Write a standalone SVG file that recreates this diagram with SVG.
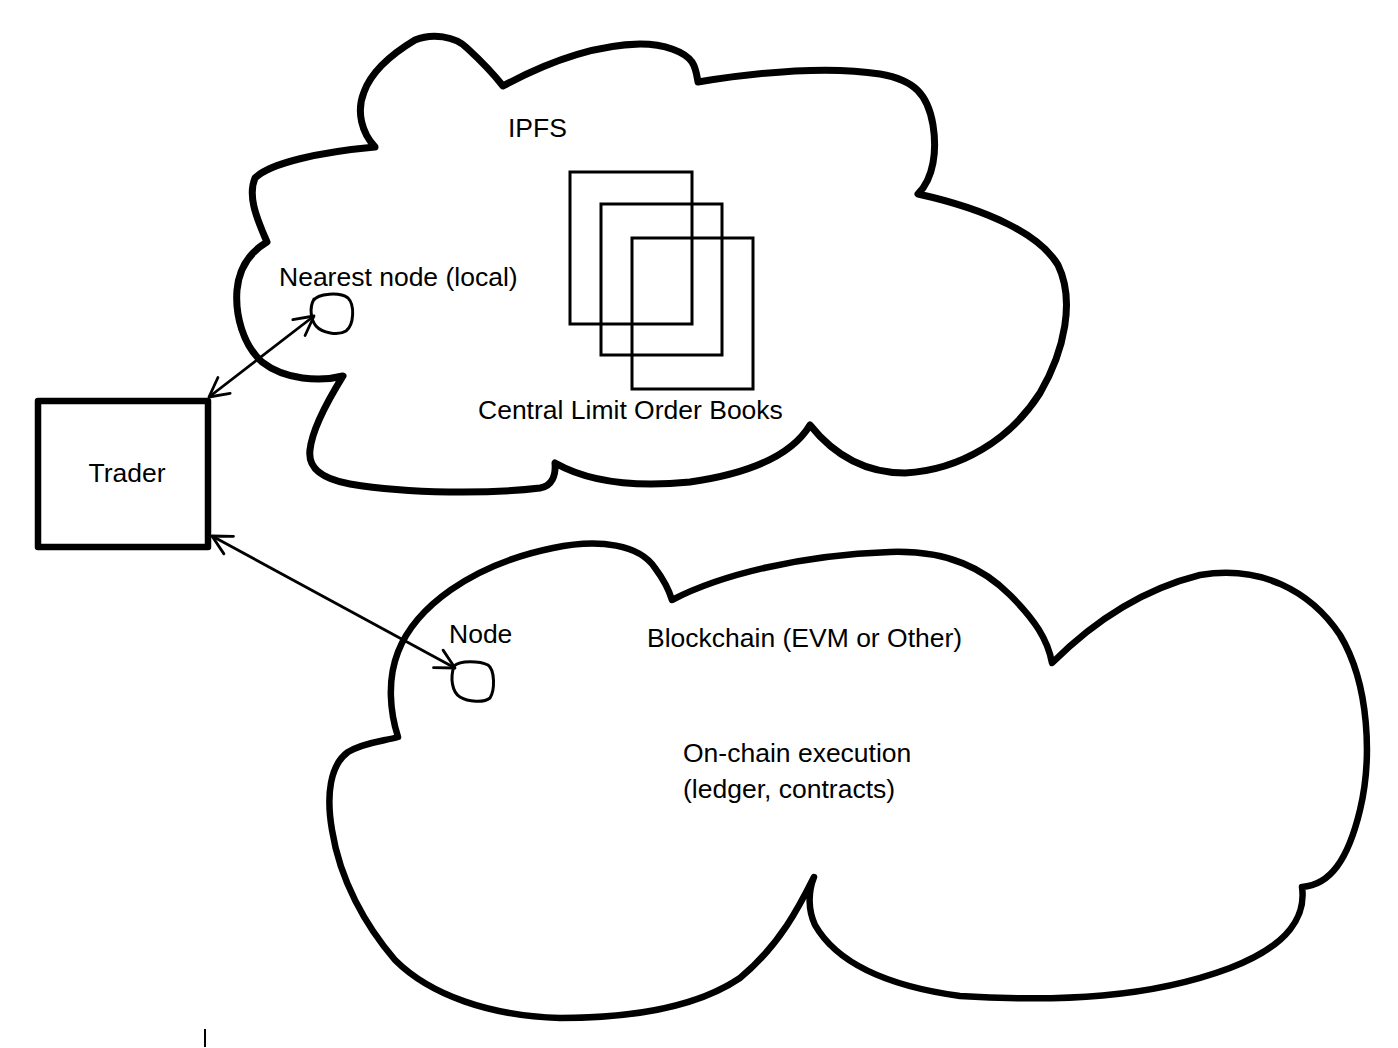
<svg xmlns="http://www.w3.org/2000/svg" width="1398" height="1048" viewBox="0 0 1398 1048">
<style>
  .cloud { fill: none; stroke: #000; stroke-width: 6.5; stroke-linejoin: round; stroke-linecap: round; }
  .cloud.top { stroke-width: 7; }
  .book { fill: none; stroke: #000; stroke-width: 3; }
  .loop { fill: none; stroke: #000; stroke-width: 3; stroke-linejoin: round; stroke-linecap: round; }
  .box { fill: none; stroke: #000; stroke-width: 6.5; stroke-linejoin: round; }
  .conn { fill: none; stroke: #000; stroke-width: 2.8; marker-start: url(#open); marker-end: url(#open); }
  .lbl { font-family: "Liberation Sans", Arial, sans-serif; font-size: 26.5px; fill: #000; }
</style>
<defs>
  <marker id="open" viewBox="-24 -14 28 28" refX="0" refY="0" markerWidth="28" markerHeight="28" markerUnits="userSpaceOnUse" orient="auto-start-reverse" overflow="visible">
    <path d="M -19 -10 L 0 0 L -19 10" fill="none" stroke="#000" stroke-width="2.8" stroke-linecap="round" stroke-linejoin="round"/>
  </marker>
</defs>
<rect width="1398" height="1048" fill="#fff"/>

<g id="cloud-ipfs">
  <path class="cloud top" d="M 375 147 C 362 133, 356 112, 364 92 C 372 70, 395 52, 415 40 C 432 33, 455 36, 467 48 C 480 60, 492 72, 503 86
    C 540 66, 590 45, 640 44 C 665 44, 685 52, 692 62 C 696 68, 697 76, 698 82
    C 760 72, 830 66, 880 74 C 915 80, 928 95, 933 125 C 937 150, 934 178, 918 194
    C 990 210, 1040 235, 1058 265 C 1075 300, 1065 350, 1040 393 C 1010 440, 960 470, 905 473 C 860 473, 830 450, 810 425
    C 795 450, 760 472, 690 482 C 630 488, 585 480, 555 463
    C 556 475, 552 486, 540 488 C 490 494, 410 494, 350 484 C 318 478, 308 466, 310 450 C 312 430, 325 405, 343 376
    C 320 382, 285 380, 262 362 C 243 345, 235 315, 237 290 C 239 268, 250 252, 267 242
    C 255 215, 248 195, 255 178 C 270 163, 320 152, 375 147 Z"/>
  <text class="lbl" x="508" y="137">IPFS</text>
</g>

<g id="clob">
  <rect class="book" x="570" y="172" width="122" height="152"/>
  <rect class="book" x="601" y="204" width="121" height="151"/>
  <rect class="book" x="632" y="238" width="121" height="151"/>
  <text class="lbl" x="478" y="419">Central Limit Order Books</text>
</g>

<g id="node-nearest">
  <path class="loop" d="M 313 301 C 318 293, 340 292, 348 298 C 355 305, 354 325, 346 331 C 338 336, 322 333, 316 326 C 311 320, 309 308, 314 299"/>
  <text class="lbl" x="279" y="286">Nearest node (local)</text>
</g>

<g id="trader">
  <rect class="box" x="38" y="401" width="170" height="146"/>
  <text class="lbl" x="127" y="482" text-anchor="middle">Trader</text>
</g>

<g id="cloud-blockchain">
  <path class="cloud" d="M 398 737 C 390 712, 387 680, 398 652 C 415 608, 470 565, 553 548 C 600 538, 640 545, 655 568 C 664 580, 669 590, 672 600
    C 720 575, 800 555, 890 552 C 950 550, 985 570, 1010 595 C 1035 620, 1048 640, 1052 663
    C 1090 625, 1140 590, 1200 575 C 1260 565, 1310 590, 1340 635 C 1370 685, 1372 760, 1360 810 C 1348 860, 1330 885, 1302 887
    C 1306 915, 1290 945, 1230 968 C 1150 998, 1060 1002, 960 996 C 880 985, 835 960, 815 925 C 808 910, 808 892, 814 877
    C 800 905, 780 945, 740 978 C 700 1005, 640 1018, 560 1018 C 490 1016, 430 995, 395 960 C 365 925, 340 880, 332 830 C 326 795, 330 765, 348 752 C 365 742, 385 741, 398 737 Z"/>
  <text class="lbl" x="647" y="647">Blockchain (EVM or Other)</text>
  <text class="lbl" x="683" y="762">On-chain execution</text>
  <text class="lbl" x="683" y="798">(ledger, contracts)</text>
</g>

<g id="node-chain">
  <path class="loop" d="M 454 666 C 460 660, 480 661, 488 665 C 495 670, 495 690, 490 698 C 484 703, 468 702, 460 697 C 452 692, 450 678, 454 666 Z"/>
  <text class="lbl" x="449" y="643">Node</text>
</g>

<g id="connectors">
  <line class="conn" x1="209" y1="397" x2="314" y2="316"/>
  <line class="conn" x1="212" y1="536" x2="455" y2="668"/>
</g>

<line x1="205" y1="1029" x2="205" y2="1047" stroke="#000" stroke-width="2"/>
</svg>
